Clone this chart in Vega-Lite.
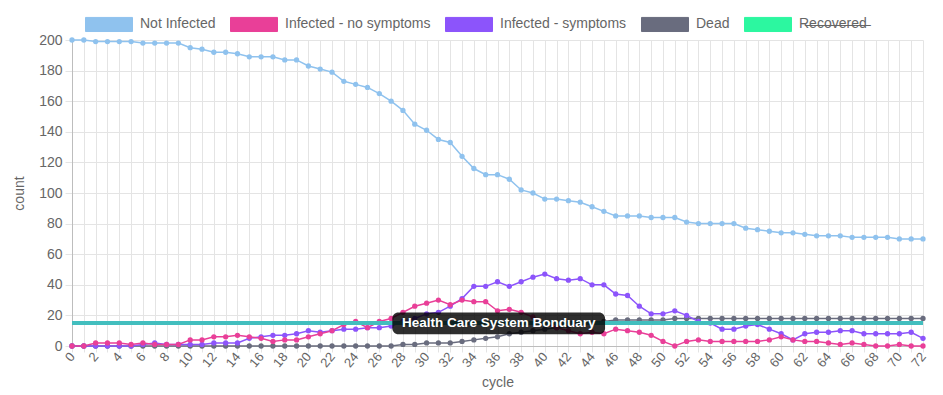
{
  "$schema": "https://vega.github.io/schema/vega-lite/v6.json",
  "width": 851,
  "height": 306,
  "autosize": {"type": "none"},
  "padding": {"left": 72, "top": 40, "right": 20, "bottom": 49},
  "background": "white",
  "config": {"view": {"stroke": null}, "font": "Liberation Sans", "axis": {"labelOverlap": false}},
  "resolve": {"axis": {"x": "independent", "y": "independent"}},
  "datasets": {
    "series": [
      {"cycle":0,"Not Infected":200,"Infected - no symptoms":0,"Infected - symptoms":0,"Dead":0},
      {"cycle":1,"Not Infected":200,"Infected - no symptoms":0,"Infected - symptoms":0,"Dead":0},
      {"cycle":2,"Not Infected":199,"Infected - no symptoms":2,"Infected - symptoms":0,"Dead":0},
      {"cycle":3,"Not Infected":199,"Infected - no symptoms":2,"Infected - symptoms":0,"Dead":0},
      {"cycle":4,"Not Infected":199,"Infected - no symptoms":2,"Infected - symptoms":0,"Dead":0},
      {"cycle":5,"Not Infected":199,"Infected - no symptoms":1,"Infected - symptoms":0,"Dead":0},
      {"cycle":6,"Not Infected":198,"Infected - no symptoms":2,"Infected - symptoms":1,"Dead":0},
      {"cycle":7,"Not Infected":198,"Infected - no symptoms":1,"Infected - symptoms":2,"Dead":0},
      {"cycle":8,"Not Infected":198,"Infected - no symptoms":1,"Infected - symptoms":1,"Dead":0},
      {"cycle":9,"Not Infected":198,"Infected - no symptoms":1,"Infected - symptoms":1,"Dead":0},
      {"cycle":10,"Not Infected":195,"Infected - no symptoms":4,"Infected - symptoms":1,"Dead":0},
      {"cycle":11,"Not Infected":194,"Infected - no symptoms":4,"Infected - symptoms":1,"Dead":0},
      {"cycle":12,"Not Infected":192,"Infected - no symptoms":6,"Infected - symptoms":2,"Dead":0},
      {"cycle":13,"Not Infected":192,"Infected - no symptoms":6,"Infected - symptoms":2,"Dead":0},
      {"cycle":14,"Not Infected":191,"Infected - no symptoms":7,"Infected - symptoms":2,"Dead":0},
      {"cycle":15,"Not Infected":189,"Infected - no symptoms":6,"Infected - symptoms":5,"Dead":0},
      {"cycle":16,"Not Infected":189,"Infected - no symptoms":5,"Infected - symptoms":6,"Dead":0},
      {"cycle":17,"Not Infected":189,"Infected - no symptoms":3,"Infected - symptoms":7,"Dead":0},
      {"cycle":18,"Not Infected":187,"Infected - no symptoms":4,"Infected - symptoms":7,"Dead":0},
      {"cycle":19,"Not Infected":187,"Infected - no symptoms":4,"Infected - symptoms":8,"Dead":0},
      {"cycle":20,"Not Infected":183,"Infected - no symptoms":6,"Infected - symptoms":10,"Dead":0},
      {"cycle":21,"Not Infected":181,"Infected - no symptoms":8,"Infected - symptoms":9,"Dead":0},
      {"cycle":22,"Not Infected":179,"Infected - no symptoms":10,"Infected - symptoms":10,"Dead":0},
      {"cycle":23,"Not Infected":173,"Infected - no symptoms":14,"Infected - symptoms":11,"Dead":0},
      {"cycle":24,"Not Infected":171,"Infected - no symptoms":16,"Infected - symptoms":11,"Dead":0},
      {"cycle":25,"Not Infected":169,"Infected - no symptoms":12,"Infected - symptoms":12,"Dead":0},
      {"cycle":26,"Not Infected":165,"Infected - no symptoms":16,"Infected - symptoms":12,"Dead":0},
      {"cycle":27,"Not Infected":160,"Infected - no symptoms":18,"Infected - symptoms":13,"Dead":0},
      {"cycle":28,"Not Infected":154,"Infected - no symptoms":22,"Infected - symptoms":16,"Dead":1},
      {"cycle":29,"Not Infected":145,"Infected - no symptoms":26,"Infected - symptoms":18,"Dead":1},
      {"cycle":30,"Not Infected":141,"Infected - no symptoms":28,"Infected - symptoms":21,"Dead":2},
      {"cycle":31,"Not Infected":135,"Infected - no symptoms":30,"Infected - symptoms":22,"Dead":2},
      {"cycle":32,"Not Infected":133,"Infected - no symptoms":27,"Infected - symptoms":26,"Dead":2},
      {"cycle":33,"Not Infected":124,"Infected - no symptoms":30,"Infected - symptoms":31,"Dead":3},
      {"cycle":34,"Not Infected":116,"Infected - no symptoms":29,"Infected - symptoms":39,"Dead":4},
      {"cycle":35,"Not Infected":112,"Infected - no symptoms":29,"Infected - symptoms":39,"Dead":5},
      {"cycle":36,"Not Infected":112,"Infected - no symptoms":23,"Infected - symptoms":42,"Dead":6},
      {"cycle":37,"Not Infected":109,"Infected - no symptoms":24,"Infected - symptoms":39,"Dead":8},
      {"cycle":38,"Not Infected":102,"Infected - no symptoms":22,"Infected - symptoms":42,"Dead":9},
      {"cycle":39,"Not Infected":100,"Infected - no symptoms":19,"Infected - symptoms":45,"Dead":10},
      {"cycle":40,"Not Infected":96,"Infected - no symptoms":15,"Infected - symptoms":47,"Dead":11},
      {"cycle":41,"Not Infected":96,"Infected - no symptoms":12,"Infected - symptoms":44,"Dead":12},
      {"cycle":42,"Not Infected":95,"Infected - no symptoms":10,"Infected - symptoms":43,"Dead":13},
      {"cycle":43,"Not Infected":94,"Infected - no symptoms":8,"Infected - symptoms":44,"Dead":14},
      {"cycle":44,"Not Infected":91,"Infected - no symptoms":9,"Infected - symptoms":40,"Dead":15},
      {"cycle":45,"Not Infected":88,"Infected - no symptoms":8,"Infected - symptoms":40,"Dead":16},
      {"cycle":46,"Not Infected":85,"Infected - no symptoms":11,"Infected - symptoms":34,"Dead":17},
      {"cycle":47,"Not Infected":85,"Infected - no symptoms":10,"Infected - symptoms":33,"Dead":17},
      {"cycle":48,"Not Infected":85,"Infected - no symptoms":9,"Infected - symptoms":26,"Dead":17},
      {"cycle":49,"Not Infected":84,"Infected - no symptoms":7,"Infected - symptoms":21,"Dead":17},
      {"cycle":50,"Not Infected":84,"Infected - no symptoms":3,"Infected - symptoms":21,"Dead":17},
      {"cycle":51,"Not Infected":84,"Infected - no symptoms":0,"Infected - symptoms":23,"Dead":18},
      {"cycle":52,"Not Infected":81,"Infected - no symptoms":3,"Infected - symptoms":20,"Dead":18},
      {"cycle":53,"Not Infected":80,"Infected - no symptoms":4,"Infected - symptoms":16,"Dead":18},
      {"cycle":54,"Not Infected":80,"Infected - no symptoms":3,"Infected - symptoms":15,"Dead":18},
      {"cycle":55,"Not Infected":80,"Infected - no symptoms":3,"Infected - symptoms":11,"Dead":18},
      {"cycle":56,"Not Infected":80,"Infected - no symptoms":3,"Infected - symptoms":11,"Dead":18},
      {"cycle":57,"Not Infected":77,"Infected - no symptoms":3,"Infected - symptoms":13,"Dead":18},
      {"cycle":58,"Not Infected":76,"Infected - no symptoms":3,"Infected - symptoms":14,"Dead":18},
      {"cycle":59,"Not Infected":75,"Infected - no symptoms":4,"Infected - symptoms":11,"Dead":18},
      {"cycle":60,"Not Infected":74,"Infected - no symptoms":6,"Infected - symptoms":8,"Dead":18},
      {"cycle":61,"Not Infected":74,"Infected - no symptoms":4,"Infected - symptoms":4,"Dead":18},
      {"cycle":62,"Not Infected":73,"Infected - no symptoms":3,"Infected - symptoms":8,"Dead":18},
      {"cycle":63,"Not Infected":72,"Infected - no symptoms":3,"Infected - symptoms":9,"Dead":18},
      {"cycle":64,"Not Infected":72,"Infected - no symptoms":2,"Infected - symptoms":9,"Dead":18},
      {"cycle":65,"Not Infected":72,"Infected - no symptoms":1,"Infected - symptoms":10,"Dead":18},
      {"cycle":66,"Not Infected":71,"Infected - no symptoms":2,"Infected - symptoms":10,"Dead":18},
      {"cycle":67,"Not Infected":71,"Infected - no symptoms":1,"Infected - symptoms":8,"Dead":18},
      {"cycle":68,"Not Infected":71,"Infected - no symptoms":0,"Infected - symptoms":8,"Dead":18},
      {"cycle":69,"Not Infected":71,"Infected - no symptoms":0,"Infected - symptoms":8,"Dead":18},
      {"cycle":70,"Not Infected":70,"Infected - no symptoms":1,"Infected - symptoms":8,"Dead":18},
      {"cycle":71,"Not Infected":70,"Infected - no symptoms":0,"Infected - symptoms":9,"Dead":18},
      {"cycle":72,"Not Infected":70,"Infected - no symptoms":0,"Infected - symptoms":5,"Dead":18}
    ],
    "boundary": [{"level": 15, "label": "Health Care System Bonduary"}]
  },
  "layer": [
    {
      "data": {"name": "series"},
      "transform": [
        {"fold": ["Dead", "Infected - symptoms", "Infected - no symptoms", "Not Infected"], "as": ["series", "count"]}
      ],
      "mark": {"type": "line", "strokeWidth": 1.5, "point": {"filled": true, "size": 28, "opacity": 1}},
      "encoding": {
        "x": {
          "field": "cycle", "type": "quantitative",
          "scale": {"domain": [0, 72], "nice": false, "zero": false},
          "axis": {
            "title": "cycle",
            "values": [0,1,2,3,4,5,6,7,8,9,10,11,12,13,14,15,16,17,18,19,20,21,22,23,24,25,26,27,28,29,30,31,32,33,34,35,36,37,38,39,40,41,42,43,44,45,46,47,48,49,50,51,52,53,54,55,56,57,58,59,60,61,62,63,64,65,66,67,68,69,70,71,72],
            "labelExpr": "datum.value % 2 == 0 ? datum.label : ''",
            "labelAngle": -50,
            "labelFontSize": 13,
            "labelColor": "#666666",
            "labelPadding": 2,
            "labelOverlap": false,
            "labelFlush": false,
            "gridColor": "#e4e4e4",
            "tickColor": "#e4e4e4",
            "tickSize": 6,
            "domainColor": "#bdbdbd",
            "titleFontSize": 14,
            "titleFontWeight": "normal",
            "titleColor": "#666666",
            "titlePadding": 6
          }
        },
        "y": {
          "field": "count", "type": "quantitative",
          "scale": {"domain": [0, 200], "nice": false},
          "axis": {
            "title": "count",
            "values": [0,20,40,60,80,100,120,140,160,180,200],
            "labelOverlap": false,
            "labelFontSize": 14,
            "labelColor": "#666666",
            "labelPadding": 3,
            "gridColor": "#e4e4e4",
            "tickColor": "#e4e4e4",
            "tickSize": 7,
            "domainColor": "#bdbdbd",
            "titleFontSize": 14,
            "titleFontWeight": "normal",
            "titleColor": "#666666",
            "titlePadding": 12
          }
        },
        "color": {
          "field": "series", "type": "nominal",
          "scale": {
            "domain": ["Not Infected", "Infected - no symptoms", "Infected - symptoms", "Dead", "Recovered"],
            "range": ["#8fc2ee", "#e93f98", "#8c54fb", "#696c7e", "#2cf7a0"]
          },
          "legend": {
            "title": null,
            "orient": "none",
            "direction": "horizontal",
            "legendX": 13,
            "legendY": -40,
            "symbolType": "M-1,-0.3H1V0.3H-1Z",
            "symbolSize": 2209,
            "symbolStrokeWidth": 1,
            "labelFontSize": 14,
            "labelColor": "#666666",
            "labelOffset": 7,
            "columnPadding": 12,
            "labelExpr": "datum.label == 'Recovered' ? 'R\u0336e\u0336c\u0336o\u0336v\u0336e\u0336r\u0336e\u0336d\u0336' : datum.label",
            "encode": {
              "symbols": {
                "update": {
                  "fill": {"scale": "color", "field": "value"},
                  "fillOpacity": {"value": 1},
                  "stroke": {"scale": "color", "field": "value"},
                  "opacity": {"value": 1}
                }
              }
            }
          }
        }
      }
    },
    {
      "data": {"name": "boundary"},
      "mark": {"type": "rule", "color": "#42bebe", "strokeWidth": 4},
      "encoding": {"y": {"field": "level", "type": "quantitative", "axis": null}}
    },
    {
      "data": {"name": "boundary"},
      "mark": {"type": "rect", "color": "#000000", "opacity": 0.82, "cornerRadius": 6},
      "encoding": {
        "x": {"datum": 27.1, "type": "quantitative", "axis": null},
        "x2": {"datum": 45.1},
        "y": {"datum": 7.6, "type": "quantitative", "axis": null},
        "y2": {"datum": 21.9}
      }
    },
    {
      "data": {"name": "boundary"},
      "mark": {"type": "text", "color": "#ffffff", "fontWeight": "bold", "fontSize": 13.5, "align": "center", "baseline": "middle"},
      "encoding": {
        "x": {"datum": 36.1, "type": "quantitative", "axis": null},
        "y": {"field": "level", "type": "quantitative", "axis": null},
        "text": {"field": "label"}
      }
    }
  ]
}
